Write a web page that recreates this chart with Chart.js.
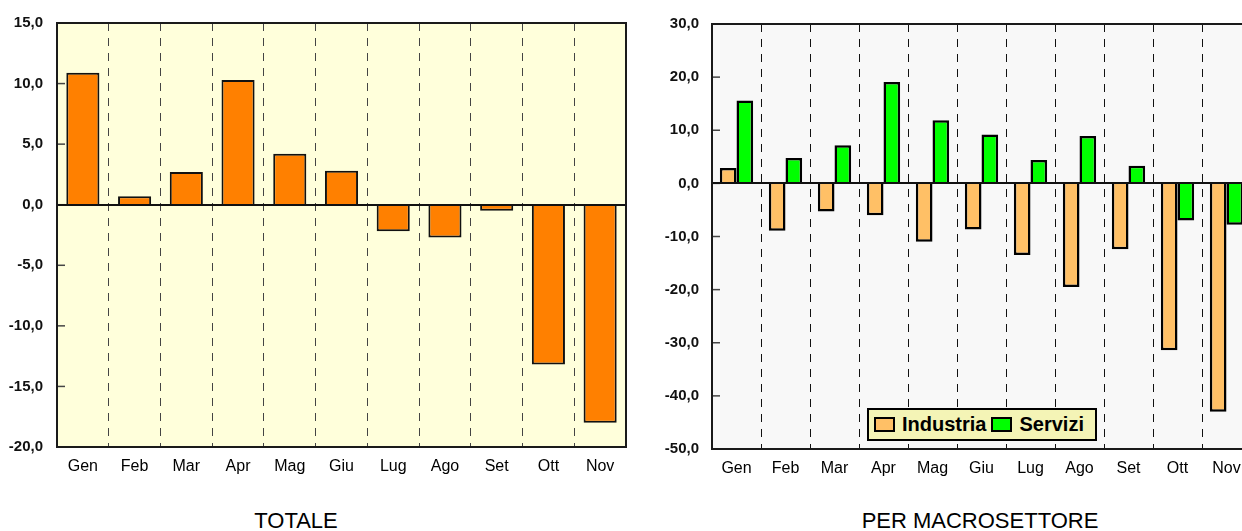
<!DOCTYPE html>
<html>
<head>
<meta charset="utf-8">
<script src="https://cdn.jsdelivr.net/npm/chart.js@4"></script>
<style>
  html, body { margin:0; padding:0; background:#fff; overflow:hidden; width:1242px; height:531px; }
  canvas { position:absolute; top:0; }
  #c1 { left:0; }
  #c2 { left:640px; }
  .title { position:absolute; font-family:"Liberation Sans", Arial, sans-serif; font-size:22px; color:#000; transform:translateX(-50%); white-space:nowrap; top:508px; }
  #legend { position:absolute; left:867px; top:408px; width:226px; height:29px; background:#f4f4b6; border:2px solid #000; display:flex; align-items:center; font-family:"Liberation Sans", Arial, sans-serif; font-weight:bold; font-size:20px; color:#000; }
  #legend .sw { display:inline-block; width:17px; height:11px; border:2px solid #000; margin:0 7px 0 5px; }
</style>
</head>
<body>
<canvas id="c1" width="640" height="490"></canvas>
<canvas id="c2" width="640" height="490"></canvas>
<div class="title" style="left:296px;">TOTALE</div>
<div class="title" style="left:980px;">PER MACROSETTORE</div>
<div id="legend"></div>
<script>
const months = ['Gen','Feb','Mar','Apr','Mag','Giu','Lug','Ago','Set','Ott','Nov'];
const totale = [10.9, 0.7, 2.7, 10.3, 4.2, 2.8, -2.2, -2.7, -0.5, -13.2, -18.0];
const industria = [2.9, -8.9, -5.3, -6.0, -11.0, -8.7, -13.5, -19.5, -12.4, -31.4, -43.0];
const servizi = [15.6, 4.8, 7.2, 19.1, 11.9, 9.2, 4.4, 8.9, 3.3, -7.0, -7.8];
const ticksTotale = [-20, -15, -10, -5, 0, 5, 10, 15];
const ticksMacro = [-50, -40, -30, -20, -10, 0, 10, 20, 30];
const seriesNames = ['Industria', 'Servizi'];
const titles = ['TOTALE', 'PER MACROSETTORE'];

const FONT = '"Liberation Sans", Arial, sans-serif';
Chart.defaults.font.family = FONT;
Chart.defaults.color = '#000';

const fmt = v => Number(v).toFixed(1).replace('.', ',');

const framePlugin = {
  id: 'frame',
  beforeDraw(chart, args, opts) {
    const a = chart.chartArea, c = chart.ctx;
    c.save();
    c.fillStyle = opts.bg;
    c.fillRect(a.left, a.top, a.right - a.left, a.bottom - a.top);
    c.restore();
  },
  afterDraw(chart, args, opts) {
    const a = chart.chartArea, c = chart.ctx;
    const y = chart.scales.y;
    c.save();
    c.strokeStyle = '#444';
    c.lineWidth = 1.5;
    y.ticks.forEach(t => {
      const py = y.getPixelForValue(t.value);
      c.beginPath(); c.moveTo(a.left, py); c.lineTo(a.left + 8, py); c.stroke();
    });
    const z = Math.round(y.getPixelForValue(0));
    c.strokeStyle = '#111';
    c.lineWidth = 2;
    c.beginPath(); c.moveTo(a.left, z); c.lineTo(a.right, z); c.stroke();
    c.strokeStyle = '#1a1a1a';
    c.strokeRect(a.left, a.top, a.right - a.left, a.bottom - a.top);
    c.restore();
  }
};

function makeOptions(cfg) {
  return {
    responsive: false,
    animation: false,
    layout: { padding: { left: 0, top: cfg.top, right: cfg.right, bottom: 0 } },
    plugins: { legend: { display: false }, tooltip: { enabled: false }, frame: { bg: cfg.bg } },
    scales: {
      x: {
        grid: { display: true, offset: true, drawTicks: false, color: cfg.dashColor, lineWidth: 1 },
        border: { display: false, dash: [8, 7] },
        ticks: { font: { size: 16 }, padding: 10, color: '#000', maxRotation: 0, autoSkip: false },
        afterFit: s => { s.height = cfg.xh; }
      },
      y: {
        min: cfg.ticks[0], max: cfg.ticks[cfg.ticks.length - 1],
        afterBuildTicks: s => { s.ticks = cfg.ticks.map(v => ({ value: v })); },
        grid: { display: false, drawTicks: false },
        border: { display: false },
        ticks: { font: { size: 15, weight: 'bold' }, padding: cfg.pad, color: '#111', callback: v => fmt(v) },
        afterFit: s => { s.width = cfg.yw; }
      }
    }
  };
}

new Chart(document.getElementById('c1'), {
  type: 'bar',
  data: {
    labels: months,
    datasets: [{ label: titles[0], data: totale, backgroundColor: '#ff8000', borderColor: '#111', borderWidth: 2, borderSkipped: 'start', barPercentage: 0.64, categoryPercentage: 1 }]
  },
  options: makeOptions({ top: 20, right: 14, bg: '#ffffdb', dashColor: '#444', xh: 43, yw: 57, pad: 14, ticks: ticksTotale }),
  plugins: [framePlugin]
});

const macroColors = ['#ffc066', '#00ff00'];
new Chart(document.getElementById('c2'), {
  type: 'bar',
  data: {
    labels: months,
    datasets: [
      { label: seriesNames[0], data: industria, backgroundColor: macroColors[0], borderColor: '#000', borderWidth: 2.5, borderSkipped: 'start', barPercentage: 1, categoryPercentage: 0.68 },
      { label: seriesNames[1], data: servizi, backgroundColor: macroColors[1], borderColor: '#000', borderWidth: 2.5, borderSkipped: 'start', barPercentage: 1, categoryPercentage: 0.68 }
    ]
  },
  options: makeOptions({ top: 24, right: 29, bg: '#f8f8f8', dashColor: '#111', xh: 41, yw: 72, pad: 13, ticks: ticksMacro }),
  plugins: [framePlugin]
});

const leg = document.getElementById('legend');
seriesNames.forEach((n, i) => {
  const sw = document.createElement('span');
  sw.className = 'sw';
  sw.style.background = macroColors[i];
  leg.appendChild(sw);
  const t = document.createElement('span');
  t.textContent = n;
  leg.appendChild(t);
});
</script>
</body>
</html>
